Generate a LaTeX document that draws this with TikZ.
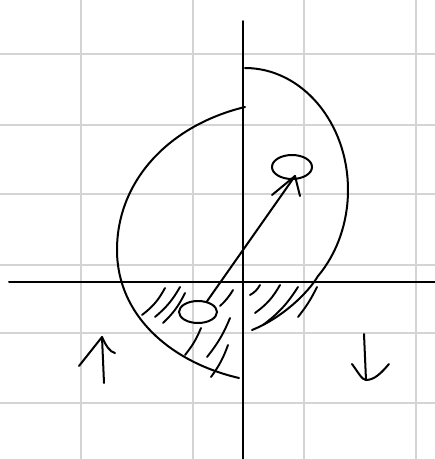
\documentclass[tikz,border=0pt]{standalone}
\usetikzlibrary{shapes.geometric}
\begin{document}
\begin{tikzpicture}[x=1pt,y=-1pt,
  gridline/.style={draw=black!17,line width=1.6pt},
  ink/.style={draw=black,line width=2pt,line cap=round,line join=round},
  hatch/.style={draw=black,line width=1.9pt,line cap=round},
  blob/.style={ellipse,draw=black,line width=2pt,inner sep=0pt}]
\useasboundingbox[fill=white] (0,0) rectangle (435,459);
% grid
\foreach \gx in {81,193,304,416} \draw[gridline] (\gx,0) -- (\gx,459);
\foreach \gy in {54,125,194,265,333,403} \draw[gridline] (0,\gy) -- (435,\gy);
% axes
\draw[ink] (243,21) -- (243,459);
\draw[ink] (9,282) -- (435,282);
% right arc
\draw[ink] (245,68) arc[start angle=-90, end angle=45, x radius=103, y radius=122]
  .. controls (308,293) and (282,318) .. (252,330);
% left arc
\draw[ink] (245,107) .. controls (170,125) and (117,180) .. (117,250)
  .. controls (117,315) and (170,362) .. (239,378);
% ellipses
\node[blob,minimum width=40pt,minimum height=24pt] (top) at (292,167) {};
\node[blob,minimum width=38pt,minimum height=22pt] (bot) at (198,312) {};
% arrow
\coordinate (tip) at (295,176);
\draw[ink] (bot.50) -- (tip);
\draw[ink] (272,195) -- (tip) -- (300,196);
% hatching left
\draw[hatch] (142,315) to[bend right=12] (165,288);
\draw[hatch] (155,317) to[bend right=10] (180,287);
\draw[hatch] (163,323) to[bend right=10] (185,293);
\draw[hatch] (185,355) to[bend right=8] (201,328);
\draw[hatch] (207,357) to[bend right=8] (230,318);
\draw[hatch] (211,377) to[bend right=8] (228,345);
\draw[hatch] (220,306) to[bend right=8] (233,290);
% hatching right
\draw[hatch] (250,295) to[bend right=15] (260,285);
\draw[hatch] (255,313) to[bend right=12] (280,285);
\draw[hatch] (263,325) to[bend right=10] (298,287);
\draw[hatch] (298,317) to[bend right=6] (317,287);
% up arrow
\draw[ink] (104,383) -- (102,337);
\draw[ink] (79,366) -- (102,337) .. controls (106,346) and (110,352) .. (115,353);
% down arrow
\draw[ink] (364,334) -- (366,380);
\draw[ink] (352,364) .. controls (358,372) and (362,380) .. (366,380) .. controls (375,380) and (382,372) .. (389,364);
\end{tikzpicture}
\end{document}
